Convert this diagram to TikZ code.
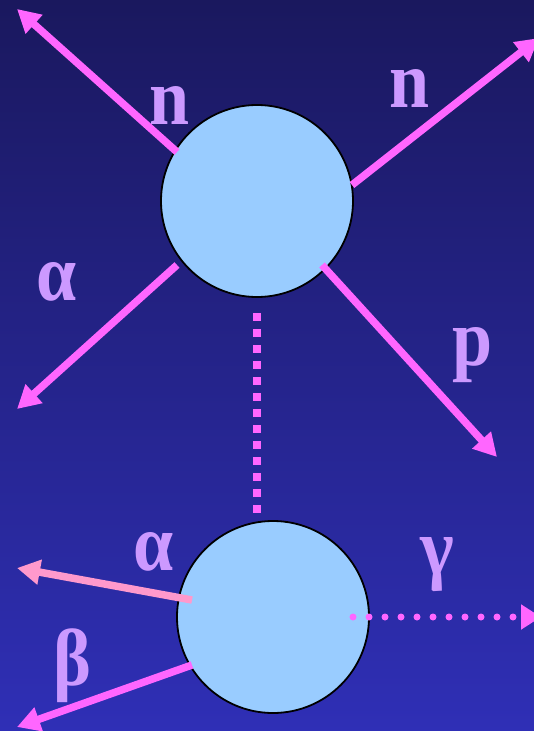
\documentclass[tikz,border=0pt]{standalone}
\usepackage{graphicx}
\usepackage{fontspec}
\setmainfont{Liberation Serif}
\usetikzlibrary{arrows.meta,calc}
\definecolor{bgtop}{RGB}{26,24,94}
\definecolor{bgbot}{RGB}{47,47,182}
\definecolor{mag}{RGB}{255,102,255}
\definecolor{pinkarrow}{RGB}{255,153,204}
\definecolor{lilac}{RGB}{204,153,255}
\definecolor{ballc}{RGB}{153,204,255}
\begin{document}
\begin{tikzpicture}[x=1pt,y=-1pt,
  ball/.style={circle,draw=black,line width=1.8pt,fill=ballc,minimum size=192pt,inner sep=0pt,outer sep=0pt},
  ray/.style={draw=mag,line width=7.5pt,-{Triangle[length=23pt,width=24pt]}},
  pinkray/.style={ray,draw=pinkarrow,-{Triangle[length=23pt,width=24pt,fill=pinkarrow]}},
  vdots/.style={draw=mag,line width=8pt,dash pattern=on 8pt off 8pt},
  gdots/.style={draw=mag,line width=7pt,line cap=round,dash pattern=on 0pt off 16pt,-{Triangle[length=20pt,width=24pt]}},
  lab/.style={text=lilac,font=\fontsize{72}{72}\selectfont\bfseries,inner sep=0pt,anchor=center},
]
\useasboundingbox (0,0) rectangle (534,731);
\fill[top color=bgtop,bottom color=bgbot] (0,0) rectangle (534,731);

\node[ball] (top) at (257,201) {};
\node[ball] (bot) at (273,617) {};

\coordinate (tl) at (17,9);
\coordinate (tr) at (539,38);
\coordinate (ml) at (17,409);
\coordinate (pr) at (497,457);
\coordinate (bal) at (17,568);
\coordinate (bbl) at (17,727);
\coordinate (gr) at (541,617);

\draw[ray] ($(top.center)+(-80,-49)$) -- (tl);
\draw[ray] ($(top.center)+(95,-16)$) -- (tr);
\draw[ray] ($(top.center)+(-80,64)$) -- (ml);
\draw[ray] ($(top.center)+(65,64)$) -- (pr);
\draw[vdots] ($(top.center)+(0,112)$) -- ($(top.center)+(0,312)$);

\draw[pinkray] ($(bot.center)+(-81,-17)$) -- (bal);
\draw[ray] ($(bot.center)+(-81,48)$) -- (bbl);
\draw[gdots] ($(bot.center)+(80,0)$) -- (gr);

\node[lab] (ln1) at (169.5,105) {\scalebox{1}[1.12]{n}};
\node[lab] (ln2) at (410,88.5) {\scalebox{1}[1.12]{n}};
\node[lab] (la1) at (56.5,282) {\scalebox{1}[1.12]{α}};
\node[lab] (lp) at (472.5,355.5) {\scalebox{1}[1.12]{p}};
\node[lab] (lg) at (437,564.5) {\scalebox{1}[1.12]{γ}};
\node[lab] (la2) at (154,552) {\scalebox{1}[1.12]{α}};
\node[lab] (lb) at (72,665.5) {\scalebox{1}[1.12]{β}};
\end{tikzpicture}
\end{document}
